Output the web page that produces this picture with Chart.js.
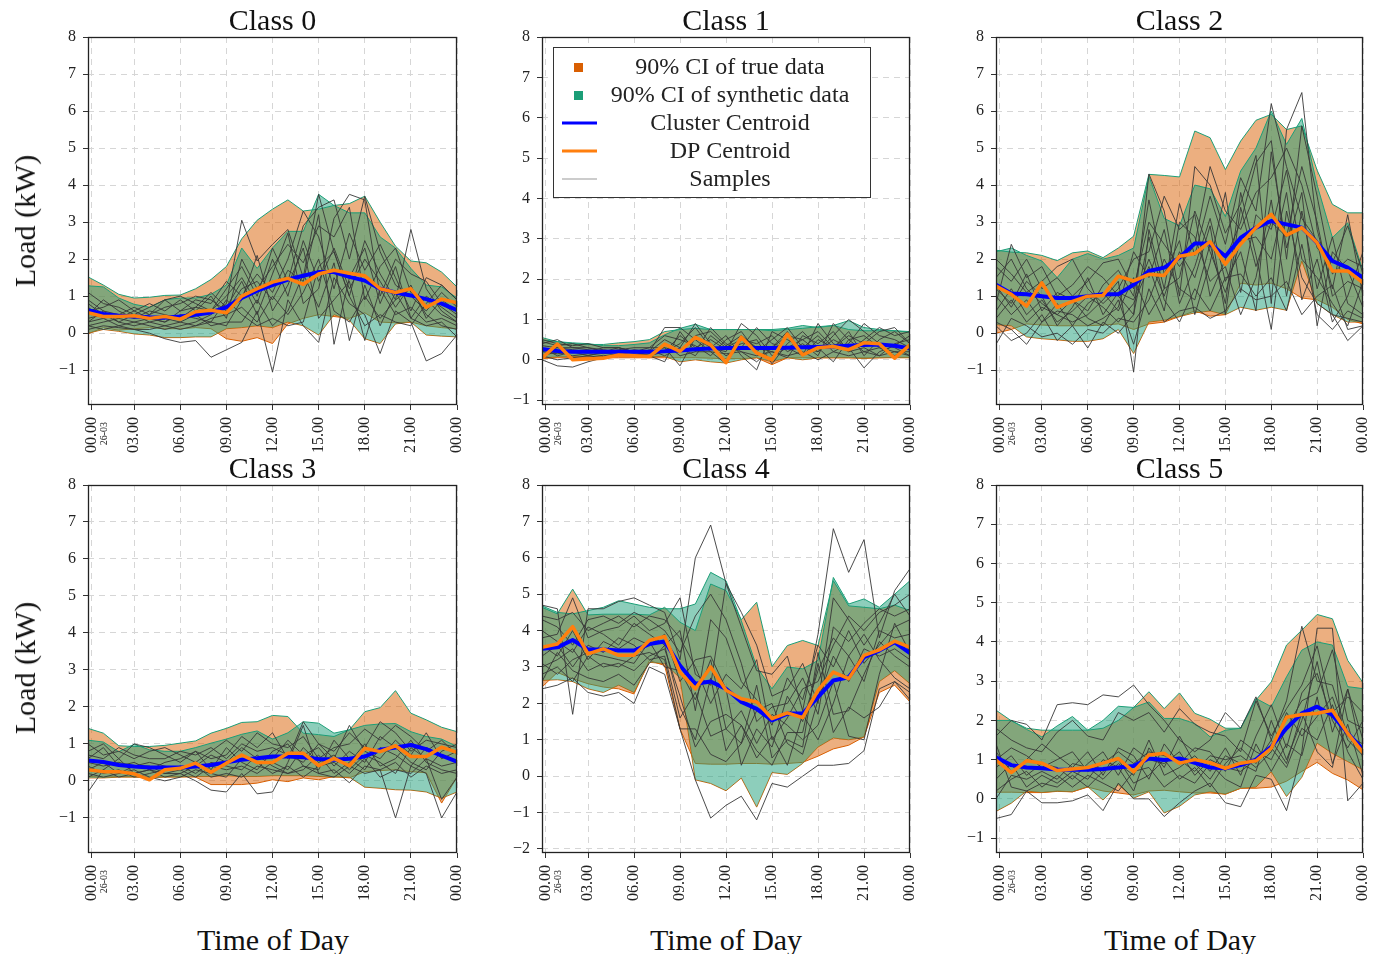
<!DOCTYPE html>
<html>
<head>
<meta charset="utf-8">
<script src="https://cdn.jsdelivr.net/npm/chart.js@4.4.1/dist/chart.umd.min.js"></script>
<style>
body { margin: 0; background: #fff; width: 1379px; height: 954px; position: relative; overflow: hidden; font-family: 'Liberation Serif', serif; }
.panel { position: absolute; }
.ylab { position: absolute; font-size: 30px; color: #111; transform: translate(-50%, -50%) rotate(-90deg); white-space: nowrap; }
.xlab { position: absolute; font-size: 30px; color: #111; transform: translate(-50%, -50%); white-space: nowrap; }
</style>
</head>
<body>
<div class="panel" id="p0"><canvas id="c0"></canvas></div>
<div class="panel" id="p1"><canvas id="c1"></canvas></div>
<div class="panel" id="p2"><canvas id="c2"></canvas></div>
<div class="panel" id="p3"><canvas id="c3"></canvas></div>
<div class="panel" id="p4"><canvas id="c4"></canvas></div>
<div class="panel" id="p5"><canvas id="c5"></canvas></div>
<div class="ylab" style="left:25px; top:221px">Load (kW)</div>
<div class="ylab" style="left:25px; top:668px">Load (kW)</div>
<div class="xlab" style="left:273px; top:940px">Time of Day</div>
<div class="xlab" style="left:726px; top:940px">Time of Day</div>
<div class="xlab" style="left:1180px; top:940px">Time of Day</div>

<script>
"use strict";

// Axis data
const HOURS = [0,1,2,3,4,5,6,7,8,9,10,11,12,13,14,15,16,17,18,19,20,21,22,23,24];
const X_TICKS = [0.26,3,6,9,12,15,18,21,24];
const X_TICK_LABELS = ["00.00","03.00","06.00","09.00","12.00","15.00","18.00","21.00","00.00"];
const DATE_LABEL = "26-03";
const TITLES = ["Class 0","Class 1","Class 2","Class 3","Class 4","Class 5"];
const Y_MINS = [-1.94,-1.12,-1.94,-1.95,-2.11,-1.38];
const Y_MAX = 8;
const LEGEND_LABELS = ["90% CI of true data","90% CI of synthetic data","Cluster Centroid","DP Centroid","Samples"];

// Class 0
const c0Blue = [0.62,0.52,0.47,0.45,0.43,0.42,0.45,0.5,0.56,0.7,0.95,1.15,1.3,1.45,1.55,1.65,1.65,1.52,1.42,1.2,1.1,1.02,0.92,0.8,0.62];
const c0Dp = [0.55,0.45,0.45,0.47,0.4,0.45,0.38,0.58,0.62,0.55,1.0,1.2,1.38,1.48,1.32,1.6,1.7,1.62,1.55,1.2,1.1,1.2,0.7,0.92,0.82];
const c0TrueHi = [1.52,1.3,1.05,0.95,0.97,1.02,1.03,1.2,1.45,1.8,2.55,3.05,3.35,3.6,3.3,3.35,3.45,3.5,3.7,3.0,2.35,1.95,1.9,1.65,1.25];
const c0TrueLo = [-0.02,0.15,0.08,0.12,0.15,0.12,0.12,0.15,0.12,-0.15,-0.22,-0.12,-0.28,0.25,0.4,0.5,0.45,0.4,0.55,0.3,0.28,0.3,0.2,0.15,0.12];
const c0SynHi = [1.28,1.25,0.95,0.78,0.7,0.9,0.95,0.95,1.05,1.3,2.3,1.75,2.3,2.75,2.75,3.75,3.45,3.25,3.25,2.6,2.3,1.75,1.3,1.25,0.95];
const c0SynLo = [0.0,0.1,0.05,-0.02,-0.05,-0.12,-0.12,-0.1,-0.1,0.12,0.15,0.2,0.15,0.3,0.2,-0.05,0.5,0.35,-0.15,-0.28,0.25,0.3,-0.05,-0.08,-0.1];
const c0Samples = [
    [0.3,0.4,0.2,0.3,0.2,0.1,0.2,0.3,0.5,0.8,3.05,1.95,2.4,2.8,1.5,3.75,2.2,1.0,2.5,1.6,0.9,2.8,1.2,0.6,0.3],
    [0.1,0.2,0.15,0.1,0.0,-0.15,-0.25,-0.2,-0.65,-0.45,-0.25,0.6,-1.05,0.9,0.2,-0.25,1.5,0.8,0.5,-0.55,0.6,0.3,-0.75,-0.55,-0.05],
    [0.9,0.6,0.5,0.7,0.5,0.9,1.0,0.8,0.6,1.2,1.8,1.0,2.3,1.4,2.9,3.4,3.6,2.0,3.7,2.2,1.3,1.0,0.6,1.1,0.7],
    [0.5,0.9,0.6,0.4,0.6,0.5,0.4,0.7,1.1,0.7,1.4,0.5,1.6,2.7,0.8,1.2,3.1,3.75,3.6,1.0,2.0,1.6,1.4,0.8,0.5],
    [0.2,0.3,0.4,0.3,0.4,0.3,0.5,0.4,0.3,0.2,0.9,2.1,0.6,1.3,2.3,0.4,0.9,1.4,-0.2,1.2,0.5,0.7,0.3,0.4,0.2],
    [1.1,0.8,0.7,0.5,0.7,0.9,0.6,0.9,0.8,1.4,1.0,1.6,1.1,2.0,3.3,2.6,1.2,2.7,1.7,2.4,1.5,0.6,1.5,1.3,0.9],
    [0.4,0.5,0.3,0.5,0.3,0.4,0.3,0.2,0.4,0.5,0.7,0.3,1.0,0.5,1.1,2.0,0.6,0.3,1.0,0.4,0.9,1.2,0.5,0.2,0.1],
    [0.7,0.4,0.5,0.4,0.5,0.7,0.8,1.0,0.9,0.6,1.2,1.4,0.9,1.7,1.4,3.2,-0.3,1.5,2.3,0.8,1.8,0.4,1.0,0.7,0.4],
    [0.2,0.1,0.2,0.1,0.1,0.2,0.1,0.2,0.3,0.9,0.5,0.2,0.4,0.2,0.3,1.8,2.2,1.0,0.2,0.5,0.3,0.2,0.8,1.3,0.9],
    [0.6,0.7,0.9,0.6,0.8,0.6,0.9,0.6,1.0,0.4,2.0,1.2,1.8,2.4,1.9,2.9,2.6,3.4,0.9,1.8,2.3,1.1,0.9,0.5,0.3],
    [0.3,0.6,0.3,0.2,0.3,0.2,0.3,0.5,0.2,0.3,0.3,0.9,0.2,0.6,1.6,0.7,1.9,-0.2,1.3,0.2,1.1,0.4,0.2,0.3,-0.1],
    [0.8,0.5,0.4,0.6,0.4,0.3,0.6,0.7,0.6,1.0,1.5,0.8,2.0,1.0,2.5,1.4,2.3,1.2,2.0,1.4,0.7,1.3,0.4,0.9,0.6]
];

// Class 1
const c1Blue = [0.27,0.22,0.2,0.2,0.2,0.2,0.2,0.2,0.21,0.23,0.26,0.28,0.29,0.29,0.29,0.29,0.3,0.31,0.32,0.33,0.35,0.37,0.38,0.35,0.28];
const c1Dp = [0.04,0.39,0.0,0.02,0.04,0.12,0.1,0.08,0.39,0.21,0.56,0.37,-0.07,0.56,0.17,0.0,0.64,0.12,0.3,0.33,0.25,0.42,0.4,0.04,0.37];
const c1TrueHi = [0.55,0.45,0.4,0.38,0.38,0.42,0.45,0.5,0.7,0.75,0.78,0.75,0.75,0.75,0.75,0.72,0.75,0.78,0.82,0.85,0.75,0.72,0.72,0.72,0.7];
const c1TrueLo = [0.03,0.05,0.05,0.05,0.05,0.05,0.05,0.05,0.05,0.05,0.05,0.04,0.03,0.03,0.05,-0.12,0.05,0.05,0.05,0.05,0.05,0.05,0.05,0.06,0.06];
const c1SynHi = [0.5,0.45,0.42,0.4,0.35,0.35,0.38,0.42,0.62,0.78,0.88,0.75,0.75,0.75,0.75,0.75,0.78,0.85,0.8,0.85,0.97,0.8,0.75,0.72,0.68];
const c1SynLo = [0.05,0.07,0.08,0.08,0.08,0.08,0.08,0.08,0.08,-0.05,0.0,-0.05,-0.08,0.0,0.05,-0.05,0.05,0.0,0.05,0.05,0.05,0.03,0.05,0.05,0.05];
const c1Samples = [
    [0.0,-0.15,-0.18,-0.05,0.05,0.1,0.1,0.15,0.2,0.4,0.8,0.3,0.2,0.9,0.6,0.1,0.3,0.5,0.2,0.6,1.0,0.7,0.4,0.3,0.1],
    [0.4,0.5,0.3,0.3,0.2,0.3,0.2,0.1,-0.05,0.7,0.2,0.8,0.4,0.2,-0.05,0.3,0.7,0.1,0.9,0.4,0.2,0.5,0.8,0.6,0.7],
    [0.2,0.3,0.25,0.2,0.15,0.2,0.1,0.2,0.8,0.8,0.5,0.2,-0.1,0.5,0.4,0.6,0.2,0.4,0.1,0.9,0.5,0.2,0.3,0.2,0.2],
    [0.5,0.4,0.35,0.4,0.3,0.3,0.2,0.3,0.3,-0.15,0.55,0.3,0.6,0.1,-0.25,0.7,0.5,0.3,0.6,0.2,0.4,0.9,0.6,0.5,0.3],
    [0.1,0.2,0.1,0.15,0.1,0.15,0.25,0.2,0.5,0.3,0.1,0.6,0.3,0.5,0.3,0.2,0.05,0.6,0.4,0.7,0.2,0.3,0.1,0.4,0.5],
    [0.3,0.1,0.2,0.1,0.2,0.1,0.1,0.25,0.1,0.3,0.9,0.4,0.1,0.3,0.8,0.4,0.3,0.1,0.5,0.3,0.7,0.1,0.5,0.7,0.4],
    [0.35,0.3,0.3,0.25,0.2,0.25,0.3,0.3,0.6,0.5,0.35,0.1,0.5,0.7,0.2,0.5,0.8,0.3,0.2,0.5,0.3,-0.2,0.2,0.35,0.6],
    [0.2,0.15,0.2,0.2,0.3,0.3,0.2,0.1,0.2,0.6,0.3,0.5,0.25,0.4,0.5,-0.1,0.4,0.7,0.3,-0.05,0.5,0.6,0.3,0.1,0.3],
    [0.45,0.35,0.4,0.3,0.25,0.2,0.2,0.2,0.3,0.2,0.6,0.7,0.35,0.6,0.3,0.3,0.6,0.5,0.7,0.3,0.6,0.4,0.7,0.8,0.4],
    [0.1,0.0,0.05,0.1,0.05,0.1,0.15,0.1,0.4,0.1,0.2,0.2,0.15,0.2,0.1,0.2,0.1,0.2,0.0,0.2,0.1,0.2,0.1,0.2,0.1]
];

// Class 2
const c2Blue = [1.31,1.07,1.05,1.0,0.95,0.95,1.0,1.05,1.05,1.31,1.68,1.77,2.04,2.42,2.42,2.08,2.58,2.85,3.03,2.94,2.85,2.44,1.95,1.77,1.5];
const c2Dp = [1.27,1.05,0.73,1.36,0.7,0.86,1.0,1.02,1.54,1.41,1.59,1.56,2.08,2.15,2.47,1.86,2.41,2.85,3.21,2.65,2.85,2.44,1.68,1.68,1.36];
const c2TrueHi = [2.24,2.19,2.17,2.1,1.96,2.17,2.22,2.04,2.3,2.62,4.29,4.26,4.22,5.46,5.28,4.42,5.19,5.75,5.91,5.5,5.6,4.4,3.48,3.25,3.25];
const c2TrueLo = [0.0,0.1,0.25,0.22,0.2,0.2,0.2,0.22,0.25,0.1,0.25,0.3,0.45,0.6,0.46,0.5,1.35,1.3,1.35,1.2,0.95,0.9,0.7,0.37,0.25];
const c2SynHi = [2.2,2.3,2.1,1.95,1.5,2.0,2.15,2.0,2.1,2.3,4.24,3.1,2.9,4.0,3.9,3.15,4.38,5.0,6.0,5.1,5.8,4.0,2.58,2.98,1.68];
const c2SynLo = [0.23,0.2,-0.1,-0.15,-0.18,-0.22,-0.22,-0.15,0.1,-0.55,0.3,0.35,0.45,0.55,0.6,0.5,0.7,0.62,0.7,0.62,1.95,0.8,0.5,0.3,0.3];
const c2Samples = [
    [1.5,2.0,1.2,0.8,0.5,0.3,0.5,0.9,1.4,-1.05,2.8,1.2,3.5,2.1,3.7,2.4,4.2,3.3,6.2,4.5,3.1,2.5,0.5,0.4,0.3],
    [0.8,2.4,1.5,1.8,1.0,1.3,1.8,1.5,1.0,0.5,4.3,3.3,1.0,4.5,4.0,2.7,3.5,4.8,0.8,5.5,6.5,2.8,1.2,3.2,1.0],
    [0.3,0.1,-0.3,0.3,0.6,0.5,0.2,0.4,0.7,2.2,1.5,2.8,0.8,1.8,3.1,1.4,2.2,0.6,4.9,2.3,3.8,0.2,2.2,1.7,0.7],
    [1.2,0.8,1.6,0.6,1.1,0.9,0.6,1.3,1.7,1.0,3.6,1.6,2.5,0.5,1.9,3.8,1.1,3.2,2.8,4.4,2.0,1.5,0.8,0.2,1.4],
    [-0.3,0.4,0.2,-0.1,0.0,-0.3,0.1,0.0,0.4,0.3,0.9,2.0,1.2,0.9,2.4,0.8,3.8,2.1,0.1,3.3,1.5,0.8,0.5,-0.2,0.2],
    [2.0,1.6,1.1,1.4,1.8,2.0,1.2,0.8,1.2,2.0,2.2,3.7,2.8,3.2,1.0,2.0,3.0,4.6,5.2,2.0,5.6,3.7,1.6,2.0,1.8],
    [0.6,1.2,0.5,0.9,0.3,0.6,1.0,0.7,0.3,0.8,1.8,0.6,3.0,2.6,1.4,1.8,0.5,1.5,3.6,1.0,3.3,1.2,2.6,0.8,0.5],
    [1.0,0.5,0.9,0.3,0.8,0.2,0.8,1.1,0.6,1.5,0.5,1.2,1.5,3.3,2.2,1.1,2.5,2.6,2.0,3.8,0.9,2.0,0.3,1.0,2.2],
    [0.2,-0.2,0.0,0.5,-0.2,0.2,-0.4,0.3,0.0,0.5,2.6,0.9,0.3,1.2,0.6,1.5,1.6,1.0,1.5,0.6,2.4,0.5,0.1,0.6,0.4],
    [1.8,1.4,2.0,1.2,1.5,1.0,1.4,1.9,2.0,1.2,3.0,2.4,1.8,2.4,4.5,3.3,2.8,3.8,4.2,5.0,4.0,2.3,1.9,2.9,1.6],
    [0.4,0.9,0.3,0.7,0.5,0.9,0.4,0.2,0.9,-0.3,1.2,0.3,0.6,0.7,0.4,0.6,1.2,0.9,1.0,1.4,0.5,1.0,1.3,0.1,0.2],
    [1.3,0.7,1.4,1.0,0.2,0.7,1.5,0.5,1.1,0.9,2.0,1.0,2.2,1.5,2.9,0.5,3.4,1.8,3.0,2.6,4.5,3.0,1.0,1.4,1.2]
];

// Class 3
const c3Blue = [0.55,0.51,0.43,0.39,0.36,0.36,0.36,0.39,0.43,0.5,0.57,0.61,0.66,0.66,0.64,0.59,0.57,0.6,0.66,0.84,0.9,0.97,0.86,0.68,0.52];
const c3Dp = [0.3,0.25,0.25,0.19,0.03,0.3,0.34,0.48,0.23,0.48,0.7,0.5,0.5,0.75,0.75,0.41,0.61,0.41,0.88,0.79,0.95,0.66,0.66,0.91,0.77];
const c3TrueHi = [1.42,1.29,0.95,0.93,0.93,0.96,1.02,1.08,1.29,1.42,1.58,1.6,1.77,1.74,1.29,1.25,1.2,1.38,1.87,1.98,2.44,1.83,1.65,1.45,1.33];
const c3TrueLo = [0.12,0.1,0.12,0.12,0.1,0.12,0.12,0.1,-0.1,-0.1,-0.1,-0.06,0.03,-0.02,0.08,0.03,0.12,0.08,0.25,0.28,0.3,0.25,0.22,-0.6,0.1];
const c3SynHi = [1.1,1.05,0.79,0.99,0.84,0.8,0.8,0.9,1.02,1.13,1.26,1.35,1.13,1.3,1.6,1.56,1.29,1.38,1.5,1.54,1.55,1.33,1.2,1.13,0.93];
const c3SynLo = [0.08,0.08,0.1,0.1,0.08,0.1,0.1,0.12,0.12,0.14,0.12,0.12,0.14,0.14,0.14,0.12,0.1,0.1,-0.17,-0.2,-0.24,-0.25,-0.3,-0.47,-0.3];
const c3Samples = [
    [-0.3,0.3,0.6,0.2,0.3,0.1,0.2,0.0,-0.25,-0.3,0.2,-0.35,-0.3,0.5,1.5,0.2,0.3,-0.05,0.4,0.3,-1.0,0.4,0.2,-1.0,-0.3],
    [0.8,1.0,0.6,1.0,0.9,0.7,0.5,0.8,0.6,0.7,1.2,0.9,1.3,0.6,1.6,1.0,0.8,1.3,0.9,1.6,1.3,0.8,1.1,1.0,0.9],
    [0.4,0.2,0.3,0.1,0.2,0.3,0.4,0.2,0.5,0.4,0.3,0.7,0.4,0.2,0.3,0.7,0.2,0.5,1.0,0.4,0.6,1.1,0.5,0.3,0.2],
    [0.6,0.9,0.4,0.5,0.3,0.5,0.6,0.8,0.3,0.9,0.5,0.3,0.8,1.0,0.4,0.3,1.1,0.6,0.3,0.9,0.7,0.4,0.9,0.7,0.5],
    [0.2,0.1,0.2,0.3,0.1,0.0,0.1,0.3,0.2,0.1,0.6,0.5,0.2,0.4,0.1,0.4,0.5,0.2,0.6,0.1,0.3,0.2,0.6,-0.5,0.1],
    [1.0,0.7,0.8,0.6,0.8,0.9,0.7,0.5,0.8,1.1,0.8,1.3,1.0,0.9,1.2,0.6,0.9,1.0,1.4,1.1,1.5,1.2,0.8,1.1,0.7],
    [0.5,0.4,0.5,0.4,0.5,0.4,0.3,0.4,0.7,0.5,0.9,0.6,0.6,1.1,0.7,0.9,0.4,0.8,0.5,1.2,0.9,0.5,0.3,0.8,1.0],
    [0.3,0.5,0.2,0.4,0.4,0.2,0.3,0.1,0.4,0.3,0.4,0.2,0.5,0.3,0.9,0.5,0.7,0.3,0.7,0.5,0.2,0.9,0.6,0.4,0.5],
    [0.7,0.6,0.9,0.7,0.6,0.6,0.8,0.7,0.9,0.6,1.0,0.8,0.9,0.7,0.5,1.0,0.6,1.5,0.8,0.6,1.1,0.7,1.3,0.6,0.8],
    [0.1,0.3,0.1,0.2,0.3,0.2,0.2,0.4,0.1,0.2,0.1,0.4,0.3,0.2,0.4,0.2,0.1,0.4,0.2,0.3,0.5,0.1,0.4,0.2,0.3]
];

// Class 4
const c4Blue = [3.5,3.54,3.74,3.48,3.48,3.45,3.45,3.63,3.7,3.04,2.54,2.6,2.4,2.04,1.85,1.53,1.72,1.72,2.17,2.63,2.72,3.27,3.45,3.68,3.38];
const c4Dp = [3.54,3.63,4.11,3.36,3.5,3.32,3.32,3.73,3.84,2.86,2.4,3.0,2.36,2.13,2.04,1.58,1.74,1.61,2.36,2.86,2.68,3.32,3.47,3.71,3.54];
const c4TrueHi = [4.64,4.46,5.14,4.43,4.45,4.45,4.45,4.43,4.64,4.23,4.0,5.28,5.1,4.3,4.78,3.01,3.59,3.73,3.59,5.37,4.68,4.64,4.6,4.7,4.55];
const c4TrueLo = [2.45,2.85,2.68,2.54,2.45,2.4,2.26,3.18,3.04,1.3,0.35,0.33,0.33,0.35,0.35,0.33,0.35,0.38,0.55,0.75,0.85,1.08,2.3,2.5,2.04];
const c4SynHi = [4.68,4.5,4.46,4.55,4.64,4.82,4.73,4.64,4.6,4.6,4.73,5.6,5.37,4.27,3.0,2.4,3.0,2.95,3.18,5.46,4.73,4.87,4.64,5.0,5.37];
const c4SynLo = [2.63,2.65,2.6,2.4,2.3,2.5,2.3,3.13,3.09,2.7,-0.1,-0.2,-0.4,-0.05,-0.85,0.1,0.05,0.35,0.8,1.05,1.0,1.08,2.6,2.9,2.54];
const c4Samples = [
    [4.7,4.6,1.7,4.6,4.6,4.8,4.9,4.7,4.5,3.2,6.0,6.9,5.3,4.1,2.9,2.8,3.3,1.8,3.9,6.8,5.6,6.5,3.8,5.1,5.7],
    [2.4,2.5,2.7,2.3,2.2,2.3,2.0,3.0,2.8,1.3,-0.1,-1.15,-0.8,-0.55,-1.2,-0.2,-0.3,0.0,0.3,0.3,0.35,0.7,2.4,2.6,2.1],
    [3.8,3.9,4.9,3.8,4.0,4.1,4.4,4.0,4.2,4.9,2.8,2.5,5.3,4.5,3.6,2.2,2.4,3.1,2.0,4.9,4.3,3.6,4.2,5.0,4.4],
    [3.0,3.2,3.5,2.9,3.1,3.0,3.3,3.4,3.2,1.3,1.3,0.6,0.4,0.9,2.5,0.5,1.0,0.8,3.4,1.7,1.8,2.8,3.7,3.3,3.0],
    [4.3,4.1,3.6,4.3,4.4,4.2,4.5,4.3,4.0,3.4,4.4,5.0,4.3,3.1,1.5,1.9,2.0,2.7,1.7,4.1,3.7,4.2,4.6,4.4,4.6],
    [3.6,3.3,4.0,3.2,3.7,3.5,3.8,3.6,3.9,2.6,3.2,3.3,2.4,0.3,1.3,0.8,2.2,1.5,2.9,3.8,3.3,2.6,4.0,3.8,3.9],
    [2.8,3.0,2.6,3.3,3.0,3.1,2.9,3.3,3.5,2.2,0.8,1.5,1.7,1.4,0.5,1.1,0.3,1.7,1.0,2.0,3.3,3.9,3.2,2.7,2.4],
    [4.0,3.7,3.4,4.1,3.9,3.6,4.2,3.9,3.6,4.0,1.8,4.3,3.8,2.6,2.1,1.4,2.7,2.1,3.6,3.0,4.0,3.1,3.6,4.1,4.3],
    [3.3,3.6,3.0,3.6,3.4,3.8,3.6,3.2,3.3,1.6,2.3,1.1,1.3,1.8,0.9,1.7,1.4,1.0,1.4,2.6,1.1,1.0,2.8,4.2,3.4],
    [4.4,4.3,4.5,4.0,4.2,4.4,4.1,4.4,4.3,3.8,3.0,2.0,2.8,2.4,3.2,1.0,1.6,2.4,2.6,3.6,4.4,4.0,4.5,4.7,5.0],
    [3.1,2.8,3.2,3.4,3.3,3.2,3.1,3.7,3.0,2.9,2.1,3.2,1.3,0.9,1.8,2.0,0.9,0.6,2.1,3.3,2.6,3.5,3.3,3.5,3.2],
    [2.6,3.4,2.9,2.7,2.6,2.8,2.5,3.1,3.6,1.9,1.0,2.7,0.7,1.4,0.7,0.3,1.2,1.2,3.1,1.2,1.9,1.6,1.9,2.6,2.3]
];

// Class 5
const c5Blue = [1.06,0.86,0.8,0.78,0.75,0.74,0.74,0.76,0.8,0.84,1.03,0.99,1.03,0.92,0.8,0.78,0.86,1.0,1.33,1.8,2.18,2.35,2.14,1.67,1.26];
const c5Dp = [0.99,0.67,0.97,0.91,0.72,0.76,0.8,0.91,1.03,0.69,1.12,1.16,0.91,1.0,0.92,0.78,0.91,0.97,1.29,2.08,2.15,2.18,2.26,1.67,1.18];
const c5TrueHi = [2.26,1.99,1.8,1.75,1.75,1.75,1.75,1.8,2.0,2.33,2.73,2.3,2.7,2.18,2.03,1.8,1.8,2.52,2.98,3.92,4.3,4.7,4.59,3.53,2.96];
const c5TrueLo = [0.17,0.17,0.16,0.16,0.2,0.18,0.3,0.2,0.15,0.1,0.2,0.22,0.18,0.15,0.15,0.12,0.27,0.27,0.3,0.45,0.7,0.93,0.65,0.48,0.23];
const c5SynHi = [2.0,2.0,1.77,1.58,1.86,2.1,1.75,2.0,2.36,2.33,2.47,2.05,2.05,1.92,1.58,1.75,1.8,2.56,2.35,3.11,3.79,4.0,3.92,2.86,2.81];
const c5SynLo = [-0.32,-0.11,0.2,0.16,0.19,0.18,0.31,-0.03,0.36,0.02,0.18,-0.36,-0.19,0.1,0.18,0.12,0.27,0.3,0.69,0.06,0.55,1.42,1.16,0.95,0.74];
const c5Samples = [
    [-0.5,-0.4,0.2,-0.1,-0.1,-0.05,0.1,-0.3,0.4,0.0,0.0,-0.45,-0.1,0.2,0.4,-0.1,-0.2,0.6,0.5,-0.3,1.2,4.35,4.35,-0.05,0.4],
    [1.6,2.0,1.9,1.5,2.4,2.45,2.4,2.65,2.6,2.9,2.4,2.0,1.5,1.2,1.5,2.2,1.8,2.6,1.5,2.5,4.4,3.0,2.9,1.6,1.4],
    [0.5,0.9,0.3,0.6,0.4,0.7,0.5,1.0,0.8,0.2,1.3,0.8,1.6,0.9,0.5,1.1,0.9,0.7,2.0,1.0,2.0,3.5,1.7,2.8,1.0],
    [1.2,0.7,1.0,1.4,1.1,0.8,1.2,0.6,1.3,1.1,0.5,1.4,0.9,1.3,1.2,0.7,1.5,1.2,1.0,1.8,2.5,2.7,3.8,2.0,1.8],
    [0.2,0.5,0.7,0.3,0.6,0.3,0.6,0.4,0.2,0.7,0.8,0.3,0.6,0.4,0.9,0.5,0.3,1.4,0.7,1.4,1.1,2.6,0.9,1.9,0.6],
    [1.8,1.5,1.3,1.2,1.7,2.0,1.6,1.5,2.2,2.0,2.2,1.7,2.3,1.9,1.7,1.6,1.2,2.5,1.6,2.3,2.9,3.9,2.2,2.6,2.2],
    [0.8,1.1,0.6,0.9,0.8,0.5,0.9,1.2,0.6,1.3,1.0,0.9,1.2,0.6,1.0,0.8,0.7,1.0,1.3,0.8,1.8,1.5,2.4,1.2,0.5],
    [1.4,0.3,0.2,0.4,0.3,0.6,0.3,0.7,1.0,0.4,0.6,1.0,0.5,0.8,0.3,0.9,1.3,0.9,1.5,0.9,2.2,1.2,0.8,2.8,1.5],
    [0.0,0.6,0.5,0.7,0.5,0.9,0.8,0.5,0.9,0.6,1.5,0.6,0.8,1.1,0.7,1.3,0.6,1.6,2.4,1.3,2.7,3.2,2.0,1.3,2.0],
    [1.0,1.3,1.1,0.8,1.0,1.2,0.7,0.9,1.2,0.9,1.2,1.1,1.0,0.7,1.1,1.0,1.1,0.8,1.2,2.2,1.6,2.1,2.6,1.5,1.1]
];

const classes = [
    {blue: c0Blue, dp: c0Dp, trueHi: c0TrueHi, trueLo: c0TrueLo, synHi: c0SynHi, synLo: c0SynLo, samples: c0Samples},
    {blue: c1Blue, dp: c1Dp, trueHi: c1TrueHi, trueLo: c1TrueLo, synHi: c1SynHi, synLo: c1SynLo, samples: c1Samples},
    {blue: c2Blue, dp: c2Dp, trueHi: c2TrueHi, trueLo: c2TrueLo, synHi: c2SynHi, synLo: c2SynLo, samples: c2Samples},
    {blue: c3Blue, dp: c3Dp, trueHi: c3TrueHi, trueLo: c3TrueLo, synHi: c3SynHi, synLo: c3SynLo, samples: c3Samples},
    {blue: c4Blue, dp: c4Dp, trueHi: c4TrueHi, trueLo: c4TrueLo, synHi: c4SynHi, synLo: c4SynLo, samples: c4Samples},
    {blue: c5Blue, dp: c5Dp, trueHi: c5TrueHi, trueLo: c5TrueLo, synHi: c5SynHi, synLo: c5SynLo, samples: c5Samples}
];

// Colours
const ORANGE = "#d95f02";
const GREEN = "#1b9e77";
const ORANGE_FILL = "rgba(217,95,2,0.5)";
const GREEN_FILL = "rgba(27,158,119,0.5)";
const BLUE = "#0000ff";
const DP_ORANGE = "#ff7f0e";
const SAMPLE_GRAY = "rgba(55,55,55,0.9)";
const SERIF = "'Liberation Serif', 'Times New Roman', serif";

// Layout of the 2x3 grid (plot area edges in page pixels)
const COL_LEFT = [88, 542, 996];
const COL_W = [369, 368, 367];
const ROW_TOP = [37, 485];
const PLOT_H = 368;
const PAD_L = 60, PAD_T = 37, PAD_R = 12, PAD_B = 62;

Chart.defaults.font.family = SERIF;
Chart.defaults.font.size = 16;
Chart.defaults.color = "#222";

function pts(values) {
    return values.map((y, i) => ({x: HOURS[i], y: y}));
}

function drawLegend(ctx, a) {
    const x0 = a.left + 11, y0 = a.top + 10;
    ctx.save();
    ctx.fillStyle = "#fff";
    ctx.fillRect(x0, y0, 317, 150);
    ctx.strokeStyle = "#333";
    ctx.lineWidth = 1;
    ctx.strokeRect(x0 + 0.5, y0 + 0.5, 317, 150);
    ctx.font = "24px " + SERIF;
    ctx.textAlign = "center";
    ctx.textBaseline = "middle";
    LEGEND_LABELS.forEach((label, i) => {
        const y = y0 + 20 + i * 28;
        if (i < 2) {
            ctx.fillStyle = i == 0 ? ORANGE : GREEN;
            ctx.fillRect(a.left + 32, y - 4, 9, 9);
        } else {
            ctx.strokeStyle = [BLUE, DP_ORANGE, "#999"][i - 2];
            ctx.lineWidth = i == 4 ? 1 : 3;
            ctx.beginPath();
            ctx.moveTo(a.left + 20, y);
            ctx.lineTo(a.left + 55, y);
            ctx.stroke();
        }
        ctx.fillStyle = "#222";
        ctx.fillText(label, a.left + 188, y + 1);
    });
    ctx.restore();
}

// Frame, title, date label and (for Class 1) the legend
const decorPlugin = {
    id: "decor",
    afterDraw(chart, args, opts) {
        const ctx = chart.ctx;
        const a = chart.chartArea;
        ctx.save();
        ctx.strokeStyle = "#222";
        ctx.lineWidth = 1.3;
        ctx.strokeRect(a.left + 0.5, a.top + 0.5, a.right - a.left - 1, a.bottom - a.top - 1);

        ctx.fillStyle = "#111";
        ctx.font = "30px " + SERIF;
        ctx.textAlign = "center";
        ctx.textBaseline = "alphabetic";
        ctx.fillText(opts.title, (a.left + a.right) / 2, a.top - 7);

        const px = chart.scales.x.getPixelForValue(X_TICKS[0]);
        ctx.translate(px + 12, a.bottom + 17);
        ctx.rotate(-Math.PI / 2);
        ctx.font = "10px " + SERIF;
        ctx.textAlign = "right";
        ctx.textBaseline = "middle";
        ctx.fillStyle = "#222";
        ctx.fillText(DATE_LABEL, 0, 0);
        ctx.restore();

        if (opts.legend) {
            drawLegend(ctx, a);
        }
    }
};

function makePanel(i) {
    const col = i % 3;
    const row = Math.floor(i / 3);
    const div = document.getElementById("p" + i);
    div.style.left = (COL_LEFT[col] - PAD_L) + "px";
    div.style.top = (ROW_TOP[row] - PAD_T) + "px";
    div.style.width = (PAD_L + COL_W[col] + PAD_R) + "px";
    div.style.height = (PAD_T + PLOT_H + PAD_B) + "px";

    const c = classes[i];
    const datasets = [
        {data: pts(c.trueLo), borderColor: ORANGE, borderWidth: 1, fill: false, order: 60},
        {data: pts(c.trueHi), borderColor: GREEN, borderWidth: 1, fill: 0, backgroundColor: ORANGE_FILL, order: 59},
        {data: pts(c.synLo), borderColor: ORANGE, borderWidth: 1, fill: false, order: 58},
        {data: pts(c.synHi), borderColor: GREEN, borderWidth: 1, fill: 2, backgroundColor: GREEN_FILL, order: 57}
    ];
    c.samples.forEach((s) => {
        datasets.push({data: pts(s), borderColor: SAMPLE_GRAY, borderWidth: 1, fill: false, order: 20});
    });
    datasets.push({data: pts(c.blue), borderColor: BLUE, borderWidth: 4, fill: false, order: 2});
    datasets.push({data: pts(c.dp), borderColor: DP_ORANGE, borderWidth: 3.5, fill: false, order: 1});

    const yMin = Y_MINS[i];

    const config = {
        type: "line",
        data: {datasets: datasets},
        options: {
            responsive: true,
            maintainAspectRatio: false,
            devicePixelRatio: 1,
            animation: false,
            events: [],
            elements: {point: {radius: 0}, line: {tension: 0, borderJoinStyle: "round"}},
            layout: {padding: {left: 0, top: PAD_T, right: PAD_R, bottom: 0}},
            plugins: {
                legend: {display: false},
                tooltip: {enabled: false},
                filler: {propagate: false},
                decor: {title: TITLES[i], legend: i == 1}
            },
            scales: {
                x: {
                    type: "linear",
                    min: 0,
                    max: 24,
                    afterFit: (scale) => {
                        scale.height = PAD_B;
                        scale.paddingLeft = 0;
                        scale.paddingRight = 0;
                    },
                    afterBuildTicks: (scale) => { scale.ticks = X_TICKS.map((v) => ({value: v})); },
                    ticks: {
                        autoSkip: false,
                        minRotation: 90,
                        maxRotation: 90,
                        padding: 7,
                        font: {size: 16},
                        callback: (v) => X_TICK_LABELS[X_TICKS.indexOf(v)]
                    },
                    grid: {color: "#d6d6d6", lineWidth: 1, tickLength: 5, tickColor: "#333", tickWidth: 1},
                    border: {display: false, dash: [6, 5]}
                },
                y: {
                    type: "linear",
                    min: yMin,
                    max: Y_MAX,
                    afterFit: (scale) => {
                        scale.width = PAD_L;
                        scale.paddingTop = 0;
                        scale.paddingBottom = 0;
                    },
                    afterBuildTicks: (scale) => {
                        const t = [];
                        for (let v = Math.ceil(yMin); v <= Y_MAX; v++) t.push({value: v});
                        scale.ticks = t;
                    },
                    ticks: {
                        padding: 7,
                        font: {size: 16},
                        callback: (v) => v < 0 ? "\u2212" + Math.abs(v) : String(v)
                    },
                    grid: {color: "#d6d6d6", lineWidth: 1, tickLength: 5, tickColor: "#333", tickWidth: 1},
                    border: {display: false, dash: [6, 5]}
                }
            }
        },
        plugins: [decorPlugin]
    };

    new Chart(document.getElementById("c" + i).getContext("2d"), config);
}

for (let i = 0; i < 6; i++) {
    makePanel(i);
}
</script>
</body>
</html>
